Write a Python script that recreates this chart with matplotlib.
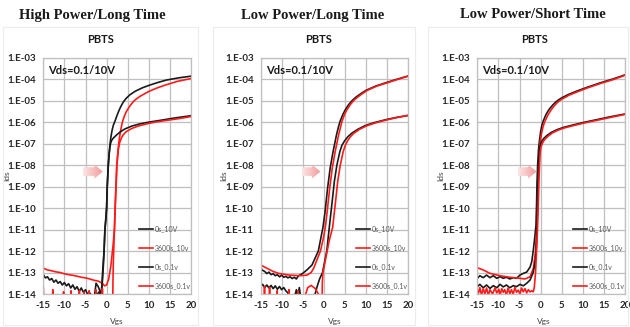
import matplotlib
matplotlib.use('Agg')
import matplotlib.pyplot as plt
import numpy as np
from matplotlib.patches import Polygon, Rectangle
from matplotlib.colors import LinearSegmentedColormap

# ---------------- data (Vgs in V, log10(Ids)) ----------------
panel_titles = ["High Power/Long Time", "Low Power/Long Time", "Low Power/Short Time"]
series_labels = ["0s_10V", "3600s_10v", "0s_0.1v", "3600s_0.1v"]
x_ticks = [-15, -10, -5, 0, 5, 10, 15, 20]
y_decades = [-3, -4, -5, -6, -7, -8, -9, -10, -11, -12, -13, -14]
y_tick_labels = ["1.E-03", "1.E-04", "1.E-05", "1.E-06", "1.E-07", "1.E-08",
                 "1.E-09", "1.E-10", "1.E-11", "1.E-12", "1.E-13", "1.E-14"]

# Panel 1: High Power / Long Time
p1_k10_v = [-3.0, -2.5, -2.0, -1.5, -1.25, -1.0, -0.8, -0.6, -0.4, -0.15, 0.0, 0.15, 0.4, 0.6,
            0.8, 1.0, 1.3, 1.6, 2.0, 2.4, 2.8, 3.3, 3.9, 4.6, 5.5, 6.7, 8.5, 10.3,
            12.2, 14.2, 17.0, 20.0]
p1_k10_y = [-14.3, -13.5, -13.65, -13.9, -14.1, -13.4, -12.8, -12.0, -11.0, -10.5, -10.0, -9.0, -8.0, -7.45,
            -7.05, -6.72, -6.38, -6.14, -5.95, -5.72, -5.52, -5.3, -5.08, -4.9, -4.73, -4.57, -4.4, -4.27,
            -4.15, -4.04, -3.94, -3.86]
p1_r10_v = [-15, -14, -13, -12, -11, -10, -9, -8, -7, -6, -5, -4, -3, -2,
            -1.5, -1.0, -0.5, 0.0, 0.5, 1.0, 1.5, 1.85, 2.0, 2.2, 2.4, 2.7, 3.0, 3.3, 3.7, 4.2,
            4.7, 5.5, 6.3, 7.1, 8.0, 9.9, 11.8, 13.8, 16.8, 20.0]
p1_r10_y = [-12.8, -12.88, -12.92, -12.97, -13.0, -13.06, -13.1, -13.13, -13.17, -13.22, -13.25, -13.3, -13.36, -13.4,
            -13.45, -13.5, -13.62, -13.58, -13.3, -12.7, -11.8, -11.0, -10.0, -9.0, -8.0, -7.3, -6.8, -6.42, -6.02, -5.72,
            -5.5, -5.25, -5.05, -4.91, -4.79, -4.58, -4.42, -4.28, -4.1, -3.97]
p1_k01_v = [-15, -14.5, -14, -13.5, -13, -12.5, -12, -11.5, -11, -10.5,
            -10, -9.5, -9, -8.5, -8, -7.5, -7, -6.5, -6, -5.5,
            -5, -4.5, -4, -3.5, -3, -2.5, -1.8, -1.4, -1.1, -0.95,
            -0.6, -0.4, 0.0, 0.15, 0.4, 0.6, 0.8, 0.95, 1.2, 1.6,
            2.4, 3.2, 4.3, 6.0, 7.9, 10.0, 12.6, 16.0, 20.0]
p1_k01_y = [-13.1, -13.25, -13.2, -13.35, -13.28, -13.45, -13.35, -13.5, -13.42, -13.58,
            -13.47, -13.62, -13.52, -13.72, -13.58, -13.78, -13.66, -13.88, -13.72, -13.92,
            -13.8, -14.02, -13.95, -14.1, -14.2, -14.1, -13.9, -14.05, -13.6, -13.0,
            -12.0, -11.0, -10.0, -9.0, -8.0, -7.5, -7.15, -6.98, -6.85, -6.74,
            -6.59, -6.46, -6.32, -6.18, -6.08, -6.0, -5.92, -5.81, -5.7]
p1_r01_v = [-15, -14.85,
            -12.9, -12.75, -12.6, -10.35, -10.2, -10.05, -8.6, -8.45, -8.3, -6.6, -6.45, -6.3,
            -5.5, -5.35, -5.2, -4.3, -4.15, -4.0, -2.7, -2.55, -2.4, -1.15, -1.0, -0.85,
            1.45, 1.5, 1.6, 1.75, 1.9, 2.05, 2.25, 2.45, 2.8, 3.1,
            3.5, 3.9, 4.6, 5.9, 7.5, 9.5, 11.5, 13.8, 17.0, 20.0]
p1_r01_y = [-13.7, -14.5,
            -14.5, -13.8, -14.5, -14.5, -13.9, -14.5, -14.5, -13.85, -14.5, -14.5, -13.85, -14.5,
            -14.5, -13.9, -14.5, -14.5, -13.85, -14.5, -14.5, -13.8, -14.5, -14.5, -13.75, -14.5,
            -14.5, -13.5, -12.5, -11.6, -10.8, -10.0, -9.0, -8.0, -7.25, -6.95,
            -6.74, -6.6, -6.45, -6.3, -6.18, -6.08, -6.0, -5.93, -5.84, -5.74]

# Panel 2: Low Power / Long Time
p2_k10_v = [-15, -14.5, -14, -13.5, -13, -12.5, -12, -11.5, -11, -10.5,
            -10, -9.5, -9, -8.5, -8, -7.5, -7, -6.5, -6, -5.5,
            -5, -4, -2.8, -1.3, -0.5, -0.2, 0.3, 0.9, 1.5, 2.2,
            3.0, 3.5, 3.9, 4.5, 5.1, 5.9, 6.8, 7.6, 8.5, 10.0,
            12.3, 14.8, 17.4, 20.0]
p2_k10_y = [-12.78, -12.9, -12.95, -13.05, -12.98, -13.1, -13.05, -13.15, -13.1, -13.2,
            -13.12, -13.22, -13.18, -13.25, -13.2, -13.28, -13.22, -13.3, -13.15, -13.1,
            -13.04, -12.88, -12.65, -12.0, -11.2, -10.9, -10.17, -9.07, -8.15, -7.37,
            -6.6, -6.2, -5.94, -5.65, -5.42, -5.18, -4.98, -4.84, -4.71, -4.52,
            -4.32, -4.16, -4.0, -3.85]
p2_r10_v = [-15, -14, -13, -12, -10.7, -9.5, -8.3, -7, -6, -5, -4, -3, -2.4, -1.6, -0.8, -0.1,
            0.35, 0.8, 1.4, 2.0, 2.7, 3.5, 4.3, 4.9, 5.5, 6.3, 7.1, 8.0, 8.8, 10.3,
            12.6, 15.0, 17.5, 20.0]
p2_r10_y = [-12.65, -12.75, -12.85, -12.95, -13.04, -13.08, -13.12, -13.13, -13.15, -13.14, -13.12, -13.0,
            -12.8, -12.4, -12.0, -11.4, -10.9, -10.17, -9.07, -8.15, -7.37, -6.6, -5.97, -5.65, -5.42, -5.18,
            -4.99, -4.84, -4.72, -4.52, -4.32, -4.17, -4.01, -3.86]
p2_k01_v = [-15, -14.5, -14, -13.5, -13, -12.5, -12, -11.5, -11, -10.5,
            -10, -9.5, -9, -8.5, -8, -7.5, -7, -6.5, -6.2, -5.8,
            -5.5, -5, -4, -3, -2.2, -1.5, -1, -0.3, 0.2, 0.7,
            1.3, 1.9, 2.5, 3.1, 3.8, 4.3, 4.9, 5.7, 6.6, 8.0,
            9.8, 12.0, 14.6, 17.2, 20.0]
p2_k01_y = [-13.66, -13.55, -13.7, -13.58, -13.72, -13.6, -13.75, -13.62, -13.78, -13.65,
            -13.8, -13.7, -13.85, -13.95, -14.2, -14.1, -14.2, -13.8, -14.2, -13.7,
            -14.1, -14.2, -14.3, -14.3, -14.1, -13.6, -13.3, -13.0, -12.5, -12.0,
            -10.9, -9.85, -8.76, -8.0, -7.37, -7.08, -6.88, -6.68, -6.52, -6.34,
            -6.16, -6.02, -5.89, -5.78, -5.69]
p2_r01_v = [-15, -14.85, -14.2, -14.05, -13.9, -13.0, -12.85, -12.7, -11.2, -11.05,
            -10.9, -8.4, -8.25, -8.1, -6.3, -6.15, -6.0, -4.6, -4.3, -3.8,
            -3.0, -2.0, -1.0, -0.6, -0.4, -0.35, -0.2, 0.3, 0.8, 1.3,
            2.1, 2.7, 3.3, 3.9, 4.6, 5.1, 5.6, 6.3, 7.1, 8.5,
            10.3, 12.5, 15.0, 17.5, 20.0]
p2_r01_y = [-13.6, -14.5, -14.5, -13.65, -14.5, -14.5, -13.7, -14.5, -14.5, -13.85,
            -14.5, -14.5, -13.8, -14.5, -14.5, -13.85, -14.5, -14.5, -14.0, -13.7,
            -13.6, -13.75, -14.1, -14.5, -14.3, -13.5, -13.0, -12.5, -12.0, -11.5,
            -10.9, -9.85, -8.76, -8.0, -7.37, -7.08, -6.88, -6.68, -6.52, -6.33,
            -6.16, -6.02, -5.89, -5.78, -5.68]

# Panel 3: Low Power / Short Time
p3_k10_v = [-15, -14.4, -13.6, -12.8, -12.0, -11.2, -10.4, -9.6, -8.85, -8.1,
            -7.3, -6.5, -5.7, -4.9, -4.1, -3.3, -2.5, -2.1, -1.75, -1.4,
            -1.1, -0.95, -0.85, -0.7, -0.5, -0.3, 0.0, 0.3, 0.6, 1.2,
            1.7, 2.2, 2.8, 3.5, 4.2, 5.0, 6.5, 8.5, 11.0, 14.0,
            17.0, 20.0]
p3_k10_y = [-13.27, -13.15, -13.24, -13.12, -13.24, -13.15, -13.27, -13.19, -13.27, -13.22,
            -13.3, -13.24, -13.27, -13.12, -13.04, -12.98, -12.75, -12.5, -12.0, -11.4,
            -10.8, -9.8, -8.8, -8.0, -7.3, -6.9, -6.45, -6.15, -5.96, -5.68,
            -5.5, -5.36, -5.22, -5.08, -4.97, -4.87, -4.72, -4.56, -4.38, -4.18,
            -4.0, -3.8]
p3_r10_v = [-15, -13.6, -12.0, -9.6, -7.3, -4.9, -3.7, -2.5, -1.7, -1.2, -0.85, -0.7, -0.6, -0.45,
            -0.25, -0.05, 0.3, 0.6, 0.9, 1.6, 2.1, 2.6, 3.2, 3.8, 4.5, 5.3, 6.8, 8.8,
            11.2, 14.2, 17.2, 20.0]
p3_r10_y = [-12.78, -12.88, -13.04, -13.15, -13.22, -13.27, -13.3, -13.2, -12.8, -12.0, -10.8, -9.8, -8.8, -8.0,
            -7.3, -6.85, -6.45, -6.2, -6.02, -5.72, -5.55, -5.4, -5.25, -5.12, -5.0, -4.9, -4.74, -4.58,
            -4.4, -4.2, -4.02, -3.82]
p3_k01_v = [-15, -14.4, -13.6, -12.8, -12.0, -11.2, -10.4, -9.6, -8.85, -8.1,
            -7.3, -6.5, -5.7, -4.9, -4.1, -3.3, -2.5, -1.75, -1.2, -1.0,
            -0.85, -0.75, -0.65, -0.5, -0.3, 0.0, 0.3, 0.8, 1.5, 2.5,
            3.9, 5.5, 7.9, 10.5, 13.4, 16.5, 20.0]
p3_k01_y = [-13.66, -13.55, -13.71, -13.58, -13.74, -13.61, -13.71, -13.55, -13.67, -13.58,
            -13.71, -13.61, -13.66, -13.55, -13.62, -13.5, -13.35, -13.0, -12.4, -11.8,
            -10.8, -9.8, -8.8, -8.0, -7.3, -7.02, -6.88, -6.75, -6.62, -6.48,
            -6.35, -6.24, -6.12, -6.0, -5.88, -5.75, -5.62]
p3_r01_v = [-15, -14.7, -14.4, -14.0, -13.6, -13.2, -12.8, -12.4, -12.0, -11.4,
            -10.8, -10.4, -9.9, -9.6, -9.2, -8.85, -8.5, -8.1, -7.7, -7.3,
            -6.9, -6.5, -6.1, -5.7, -5.3, -4.9, -4.5, -4.1, -3.7, -3.3,
            -2.9, -2.5, -2.1, -1.75, -1.5, -1.2, -0.96, -0.7, -0.55, -0.4,
            -0.25, -0.1, 0.1, 0.5, 1.0, 1.8, 2.8, 4.2, 5.8, 8.2,
            10.8, 13.7, 16.8, 20.0]
p3_r01_y = [-13.8, -13.95, -13.7, -14.05, -13.75, -13.98, -13.72, -14.05, -13.8, -14.0,
            -13.72, -13.95, -13.78, -14.05, -13.75, -13.92, -13.8, -14.05, -13.72, -13.98,
            -13.8, -14.02, -13.7, -13.92, -13.82, -14.0, -13.72, -13.9, -13.75, -13.95,
            -13.8, -13.9, -13.85, -13.9, -13.7, -13.0, -12.0, -10.8, -9.8, -8.8,
            -8.0, -7.42, -7.15, -6.95, -6.8, -6.65, -6.5, -6.37, -6.26, -6.14,
            -6.02, -5.9, -5.77, -5.64]

panels = [
    [(p1_k10_v, p1_k10_y), (p1_r10_v, p1_r10_y), (p1_k01_v, p1_k01_y), (p1_r01_v, p1_r01_y)],
    [(p2_k10_v, p2_k10_y), (p2_r10_v, p2_r10_y), (p2_k01_v, p2_k01_y), (p2_r01_v, p2_r01_y)],
    [(p3_k10_v, p3_k10_y), (p3_r10_v, p3_r10_y), (p3_k01_v, p3_k01_y), (p3_r01_v, p3_r01_y)],
]

# ---------------- styling ----------------
plt.rcParams['font.family'] = ['Lato', 'DejaVu Sans']
BLACK = '#1a1a1a'
RED = '#ff1a1a'
series_colors = [BLACK, RED, BLACK, RED]
GRID = '#bfbfbf'

W, H = 630.0, 327.0
fig = plt.figure(figsize=(6.3, 3.27), dpi=100)
fig.patch.set_facecolor('white')

ax_lefts = [43.3, 260.5, 477.3]
ax_w = 147.7
ax_top, ax_bot = 57.7, 294.0
suptitle_x = [92, 313, 533]
arrows = [(-5.6, -0.9), (-5.2, -0.8), (-5.4, -0.95)]
chart_boxes = [(3, 27, 195, 298), (213, 27, 202, 298), (428, 27, 200, 298)]

arrow_cmap = LinearSegmentedColormap.from_list('pk', ['#fde6e6', '#f39a9a'])

for i in range(3):
    bx, by, bw, bh = chart_boxes[i]
    fig.patches.append(Rectangle((bx / W, 1 - (by + bh) / H), bw / W, bh / H,
                                 transform=fig.transFigure, facecolor='none',
                                 edgecolor='#ececec', lw=0.8))
    ax = fig.add_axes([ax_lefts[i] / W, 1 - ax_bot / H, ax_w / W, (ax_bot - ax_top) / H])
    ax.set_yscale('log')
    handles = []
    for (v, y), c in zip(panels[i], series_colors):
        h, = ax.plot(v, 10.0 ** np.array(y), color=c, lw=1.2, solid_joinstyle='round')
        handles.append(h)
    ax.set_xlim(-15, 20)
    ax.set_ylim(1e-14, 1e-3)
    ax.set_xticks(x_ticks)
    ax.set_xticklabels([str(t) for t in x_ticks])
    ax.set_yticks([10.0 ** d for d in y_decades])
    ax.set_yticklabels(y_tick_labels)
    ax.minorticks_off()
    ax.tick_params(length=0, labelsize=7, labelcolor='#262626')
    ax.tick_params(axis='x', pad=5)
    ax.tick_params(axis='y', pad=5)
    for lab in ax.get_xticklabels() + ax.get_yticklabels():
        lab.set_fontweight('bold')
    ax.grid(True, color=GRID, lw=0.9)
    ax.set_axisbelow(True)
    for s in ax.spines.values():
        s.set_color(GRID)
        s.set_linewidth(0.9)

    ax.set_xlabel('Vgs', fontsize=6, color='#404040')
    ax.xaxis.set_label_coords(0.5 if i < 2 else 0.45, -0.1)
    ax.set_ylabel('Ids', fontsize=6, color='#404040')
    ax.yaxis.set_label_coords(-0.225, 0.5)

    ax.text(0.035, 0.944, 'Vds=0.1/10V', transform=ax.transAxes, fontsize=8,
            fontweight='bold', color='#1a1a1a', va='center', ha='left')
    ax.text(0.39, 1.075, 'PBTS', transform=ax.transAxes, fontsize=8,
            fontweight='bold', color='#1a1a1a', va='center', ha='center')

    ax.legend(handles, series_labels, loc='upper left', bbox_to_anchor=(0.646, 0.292),
              frameon=False, fontsize=5, handlelength=2.0, handletextpad=0.3,
              labelspacing=1.75, borderpad=0, borderaxespad=0, labelcolor='#595959')

    # gradient arrow
    x0, x1 = arrows[i]
    xh = x1 - 2.0
    yc = -8.3
    hb, hh = 0.2, 0.33
    verts = [(x0, 10 ** (yc - hb)), (xh, 10 ** (yc - hb)), (xh, 10 ** (yc - hh)),
             (x1, 10 ** yc), (xh, 10 ** (yc + hh)), (xh, 10 ** (yc + hb)), (x0, 10 ** (yc + hb))]
    poly = Polygon(verts, closed=True, facecolor='none', edgecolor='none', transform=ax.transData)
    ax.add_patch(poly)
    to_ax = ax.transData + ax.transAxes.inverted()
    (ax0, ay0), (ax1, ay1) = to_ax.transform([(x0, 10 ** (yc - hh)), (x1, 10 ** (yc + hh))])
    grad = np.linspace(0, 1, 256).reshape(1, -1)
    im = ax.imshow(grad, extent=[ax0, ax1, ay0, ay1], transform=ax.transAxes,
                   cmap=arrow_cmap, aspect='auto', interpolation='bilinear', zorder=3)
    im.set_clip_path(poly)
    ax.set_xlim(-15, 20)
    ax.set_ylim(1e-14, 1e-3)

    fig.text(suptitle_x[i] / W, 1 - 15 / H, panel_titles[i], fontsize=10.5, fontweight='bold',
             family=['Liberation Serif', 'DejaVu Serif'], ha='center', va='center', color='#1a1a1a')

fig.savefig('out.png', dpi=100, facecolor='white')
